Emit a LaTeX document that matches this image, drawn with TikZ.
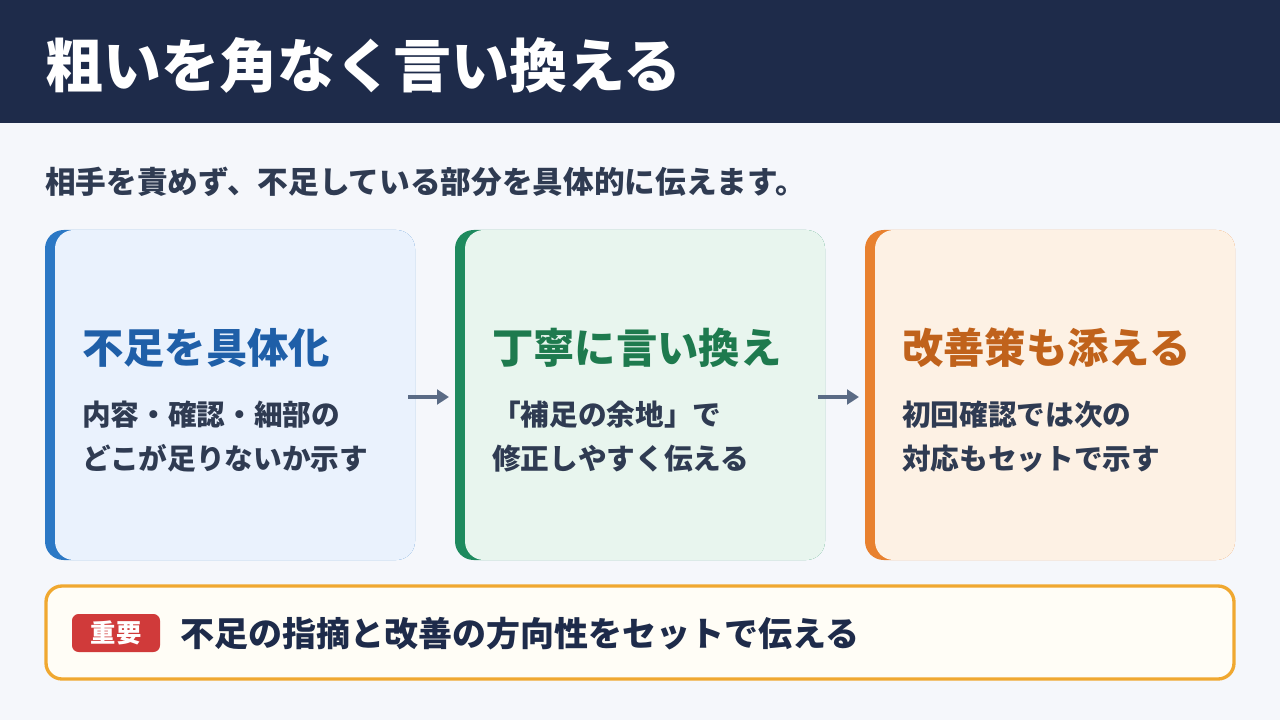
\documentclass[tikz,border=0pt]{standalone}
\usepackage{fontspec}
\setmainfont{Noto Sans CJK JP}
\usetikzlibrary{arrows.meta}
\definecolor{navy}{HTML}{1E2B4A}
\definecolor{bg}{HTML}{F5F7FB}
\definecolor{txt}{HTML}{2F3B52}
\definecolor{ablue}{HTML}{2B78C5}\definecolor{fblue}{HTML}{EAF2FD}\definecolor{tblue}{HTML}{1F5FA8}
\definecolor{agreen}{HTML}{1E8A5E}\definecolor{fgreen}{HTML}{E8F5EE}\definecolor{tgreen}{HTML}{1E7A4E}
\definecolor{aorange}{HTML}{E8812F}\definecolor{forange}{HTML}{FDF1E4}\definecolor{torange}{HTML}{C0621B}
\definecolor{arr}{HTML}{5A6B85}
\definecolor{gold}{HTML}{F0A830}\definecolor{cream}{HTML}{FFFDF6}\definecolor{red}{HTML}{D03A3A}
\begin{document}
\begin{tikzpicture}[x=0.75pt,y=-0.75pt,
 lbl/.style={anchor=west,inner sep=0pt,font=\bfseries},
 ctitle/.style={lbl,font=\fontsize{31}{36}\selectfont\bfseries},
 cbody/.style={lbl,text=txt,font=\fontsize{21.5}{26}\selectfont\bfseries,align=left},
 flow/.style={-{Triangle[length=9pt,width=11pt]},line width=3pt,draw=arr}]
\useasboundingbox (0,0) rectangle (1280,720);
\fill[bg] (0,0) rectangle (1280,720);
\fill[navy] (0,0) rectangle (1280,123);
\node[lbl,text=white,font=\fontsize{43.5}{50}\selectfont\bfseries] (title) at (45,65) {粗いを角なく言い換える};
\node[lbl,text=txt,font=\fontsize{23}{28}\selectfont\bfseries] (sub) at (45,182) {相手を責めず、不足している部分を具体的に伝えます。};
\foreach \x/\a/\f in {45/ablue/fblue,455/agreen/fgreen,865/aorange/forange}{
 \fill[\a,rounded corners=14] (\x,230) rectangle ++(370,330);
 \fill[\f,rounded corners=14] (\x+10,230) rectangle ++(360,330);
}
\node[ctitle,text=tblue] (t1) at (82,348) {不足を具体化};
\node[cbody] (b1) at (82,437) {内容・確認・細部の\\[7pt]どこが足りないか示す};
\node[ctitle,text=tgreen] (t2) at (492,348) {丁寧に言い換え};
\node[cbody] (b2) at (492,437) {「補足の余地」で\\[7pt]修正しやすく伝える};
\node[ctitle,text=torange] (t3) at (902,348) {改善策も添える};
\node[cbody] (b3) at (902,437) {初回確認では次の\\[7pt]対応もセットで示す};
\coordinate (a1s) at (408,397);\coordinate (a1e) at (449,397);
\coordinate (a2s) at (818,397);\coordinate (a2e) at (859,397);
\draw[flow] (a1s) -- (a1e);
\draw[flow] (a2s) -- (a2e);
\draw[gold,fill=cream,line width=2.5pt,rounded corners=12] (46,586) rectangle (1234,679);
\fill[red,rounded corners=5] (72,614) rectangle (160,652);
\node[text=white,font=\fontsize{19}{22}\selectfont\bfseries,inner sep=0pt] (badge) at (116,633) {重要};
\node[lbl,text=navy,font=\fontsize{25.5}{30}\selectfont\bfseries] (key) at (180,634) {不足の指摘と改善の方向性をセットで伝える};
\end{tikzpicture}
\end{document}
